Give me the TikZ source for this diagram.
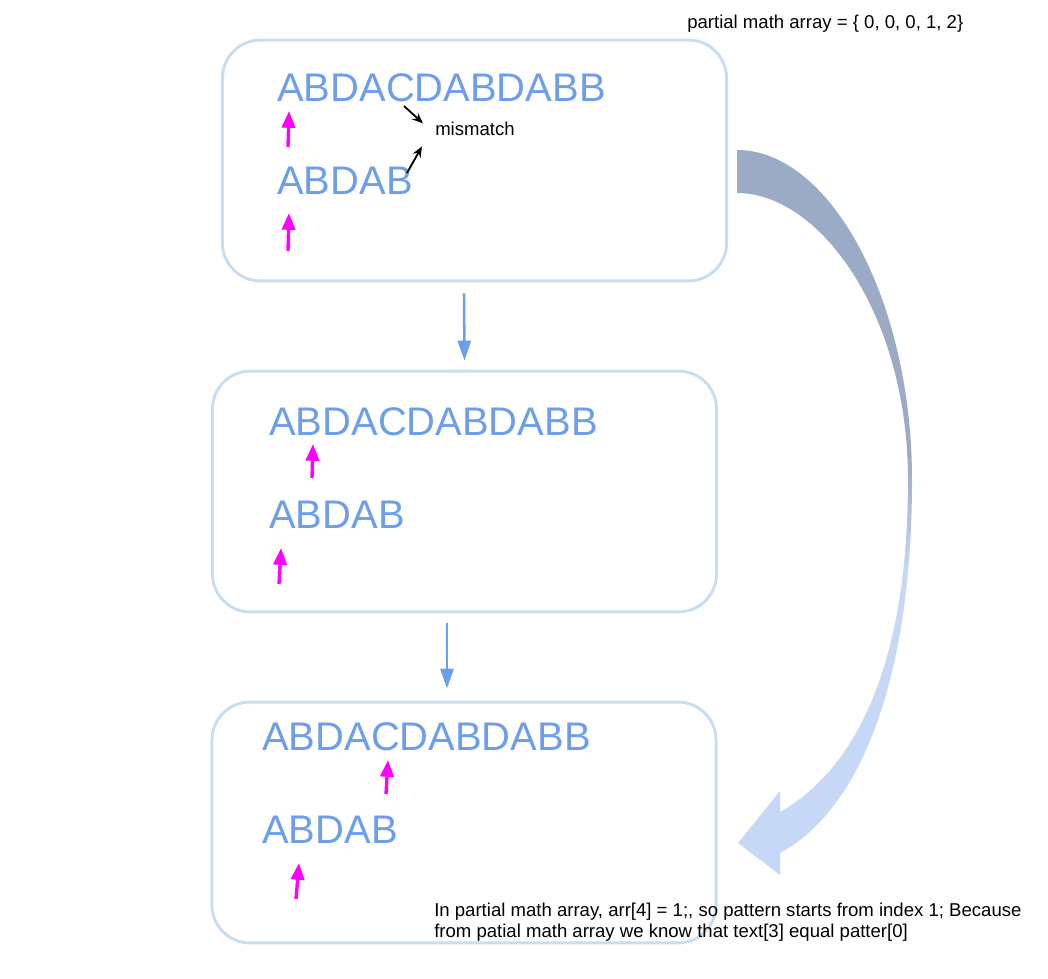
\documentclass[tikz,border=0pt]{standalone}
\usepackage{fontspec}
\setmainfont{Liberation Sans}
\usetikzlibrary{arrows.meta, calc}

\definecolor{strblue}{HTML}{6D9EEB}
\definecolor{boxblue}{HTML}{CADCF0}
\definecolor{arrdark}{HTML}{9BAAC5}
\definecolor{arrlight}{HTML}{C6D8F5}
\definecolor{ptrpink}{HTML}{FF00FF}
\pgfdeclareverticalshading{bigarrow}{100bp}{color(0bp)=(arrlight); color(46bp)=(arrlight); color(54bp)=(arrdark); color(100bp)=(arrdark)}

\begin{document}
\begin{tikzpicture} [x=0.025cm, y=-0.025cm,
	stepbox/.style={draw=boxblue, line width=2.1pt, rounded corners=0.95cm, minimum width=12.6cm, minimum height=6.02cm},
	str/.style={anchor=base west, inner sep=0, text=strblue, font=\fontsize{28.4}{30}\selectfont},
	note/.style={anchor=base west, inner sep=0, font=\fontsize{13.2}{14.4}\selectfont},
	flow/.style={draw=strblue, line width=1.8pt, -{Triangle[length=0.5cm, width=0.33cm]}},
	ptr/.style={draw=ptrpink, line width=2.4pt, -{Triangle[length=0.42cm, width=0.33cm]}},
	mis/.style={draw=black, line width=1.3pt, -{Stealth[length=0.27cm, width=0.22cm]}}]
	\useasboundingbox (0,0) rectangle (1048,979);
	
	% the three steps
	\node[stepbox] (box1) at (474.5,160.5) {};
	\node[stepbox] (box2) at (464.5,491.5) {};
	\node[stepbox] (box3) at (464,822.5) {};
	
	\node[str] (text1) at (277,102) {ABDACDABDABB};
	\node[str] (pat1) at (277,194) {ABDAB};
	\node[str] (text2) at (269,435) {ABDACDABDABB};
	\node[str] (pat2) at (269,528) {ABDAB};
	\node[str] (text3) at (262,750) {ABDACDABDABB};
	\node[str] (pat3) at (262,843) {ABDAB};
	
	\node[note] (mm) at (435,136) {mismatch};
	\node[note] (lps) at (687,29) {partial math array = \{ 0, 0, 0, 1, 2\}};
	\node[note, align=left] (expl) at (434,937) {In partial math array, arr[4] = 1;, so pattern starts from index 1; Because\\from patial math array we know that text[3] equal patter[0]};
	
	\coordinate (cmis) at (404,106);
	\coordinate (bmis) at (407,173);
	\draw[mis] (cmis) -- ($(mm.west)+(-12,-6)$);
	\draw[mis] (bmis) -- ($(mm.west)+(-13,17)$);
	
	% pointers
	\foreach \xa/\ya/\xb/\yb in {288/147/289/111, 288/251/289/213, 312/478/313/444,
		279/584/281/548, 386/794/388/760, 296/899/299/863}
	\draw[ptr] (\xa,\ya) -- (\xb,\yb);
	
	\draw[flow] ($(box1.south)+(-10.5,11)$) -- ($(box2.north)+(0,-9)$);
	\draw[flow] ($(box2.south)+(-17.5,10)$) -- ($(box3.north)+(-17,-12)$);
	
	% big jump
	\path[shading=bigarrow] (737,150) .. controls (830,150) and (912,300) .. (912,480)
	.. controls (912,680) and (860,810) .. (780,853) -- (780,875) -- (738,843) -- (780,791)
	-- (780,812) .. controls (858,768) and (908,660) .. (908,480)
	.. controls (908,315) and (820,193) .. (737,193) -- cycle;
	
\end{tikzpicture}
\end{document}
